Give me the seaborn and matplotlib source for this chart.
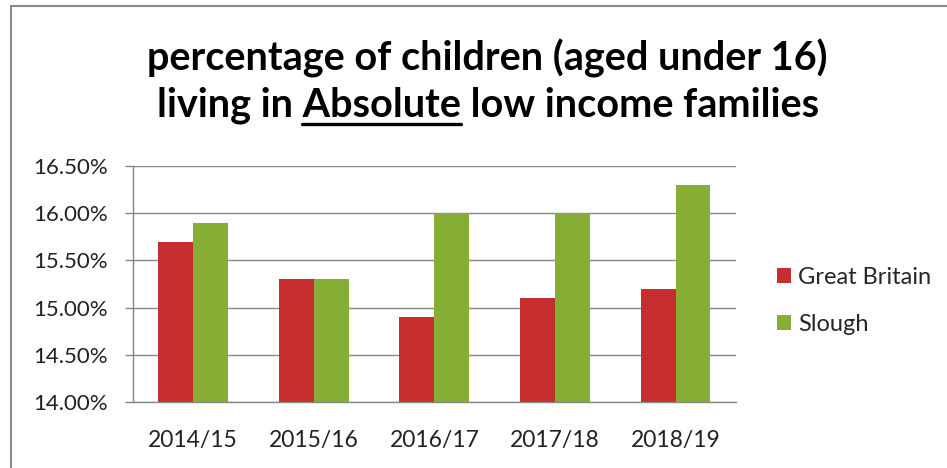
import matplotlib
matplotlib.use("Agg")
import matplotlib.pyplot as plt
import matplotlib.patches as mpatches
import seaborn as sns
import pandas as pd

years = ["2014/15", "2015/16", "2016/17", "2017/18", "2018/19"]
great_britain = [15.7, 15.3, 14.9, 15.1, 15.2]
slough = [15.9, 15.3, 16.0, 16.0, 16.3]
series = ["Great Britain", "Slough"]
colors = ["#C62D2E", "#86AD34"]
y_ticks = [14.0, 14.5, 15.0, 15.5, 16.0, 16.5]

df = pd.DataFrame({
    "year": years * 2,
    "value": great_britain + slough,
    "area": [series[0]] * len(years) + [series[1]] * len(years),
})

sns.set_style("white")
plt.rcParams["font.family"] = ["Lato", "DejaVu Sans"]

fig = plt.figure(figsize=(9.47, 4.68), dpi=100)
ax = fig.add_axes([0.1404, 0.141, 0.777 - 0.1404, 0.6453 - 0.141])

sns.barplot(data=df, x="year", y="value", hue="area", palette=colors,
            width=0.58, saturation=1, linewidth=0, ax=ax)

ax.set_ylim(14.0, 16.5)
ax.set_xlim(-0.5, len(years) - 0.5)
ax.set_yticks(y_ticks)
ax.set_yticklabels([f"{v:.2f}%" for v in y_ticks], fontsize=16, color="#222222")
ax.set_xticks(range(len(years)))
ax.set_xticklabels(years, fontsize=16.5, color="#222222")
ax.set_xticks([i - 0.5 for i in range(len(years) + 1)], minor=True)
ax.tick_params(axis="x", which="major", length=0, pad=20)
ax.tick_params(axis="x", which="minor", length=6, width=1, color="#878787", direction="out")
ax.tick_params(axis="y", length=6, width=1, color="#878787", direction="out", left=True, pad=12)
ax.set_xlabel("")
ax.set_ylabel("")
ax.grid(axis="y", color="#878787", linewidth=1)
ax.set_axisbelow(True)
for side in ["top", "right"]:
    ax.spines[side].set_visible(False)
for side in ["left", "bottom"]:
    ax.spines[side].set_color("#878787")
    ax.spines[side].set_linewidth(1)

handles, labels = ax.get_legend_handles_labels()
ax.legend(handles, labels, loc="center left", bbox_to_anchor=(1.068, 0.428),
          frameon=False, fontsize=17, handlelength=0.6, handleheight=0.6,
          handletextpad=0.3, labelspacing=1.1, borderpad=0, borderaxespad=0)

# title, with "Absolute" underlined
tsize = 28.5
title_kw = dict(fontsize=tsize, fontweight="bold", ha="center", va="baseline", color="black")
fig.text(0.515, 1 - 70 / 468, "percentage of children (aged under 16)", **title_kw)
line2 = "living in Absolute low income families"
t2 = fig.text(0.515, 1 - 117 / 468, line2, **title_kw)

fig.canvas.draw()
r = fig.canvas.get_renderer()
bb = t2.get_window_extent(r)
tmp1 = fig.text(0, 0, "living in Absolute", fontsize=tsize, fontweight="bold")
tmp2 = fig.text(0, 0, "Absolute", fontsize=tsize, fontweight="bold")
w1 = tmp1.get_window_extent(r).width
w2 = tmp2.get_window_extent(r).width
tmp1.remove()
tmp2.remove()
x0 = (bb.x0 + w1 - w2) / fig.bbox.width
x1 = (bb.x0 + w1) / fig.bbox.width
yl = 1 - 124 / 468
fig.add_artist(plt.Line2D([x0, x1], [yl, yl], color="black", linewidth=2.4))

# outer chart border
fig.add_artist(mpatches.Rectangle((11 / 947, -0.05), 1.2, 1 - 6 / 468 + 0.05,
                                  transform=fig.transFigure, fill=False,
                                  edgecolor="#888888", linewidth=1.5))

fig.savefig("out.png", dpi=100)
